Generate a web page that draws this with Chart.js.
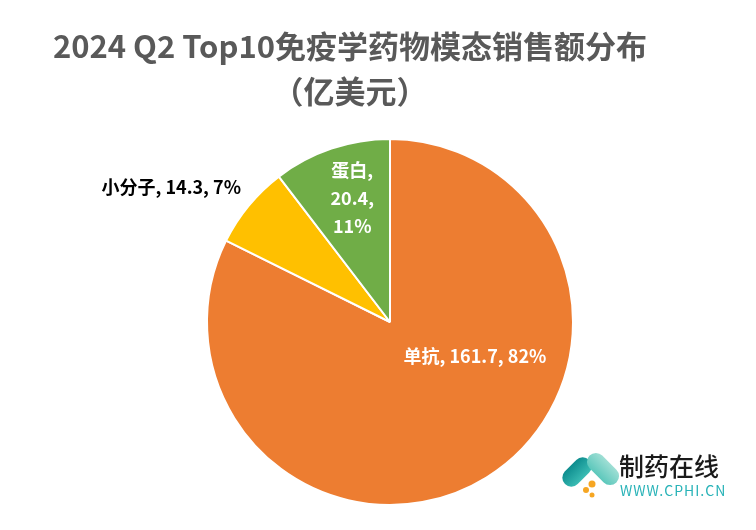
<!DOCTYPE html>
<html><head><meta charset="utf-8">
<script src="https://cdn.jsdelivr.net/npm/chart.js@4"></script>
<style>html,body{margin:0;padding:0;background:#fff}#wrap{width:756px;height:530px;position:relative}</style>
</head><body><div id="wrap"><canvas id="c" width="756" height="530"></canvas></div>
<script>
const categories = ['单抗', '小分子', '蛋白'];
const values = [161.7, 14.3, 20.4];
const percents = ['82%', '7%', '11%'];
const colors = ['#ED7D31', '#FFC000', '#70AD47'];
const titleLines = ['2024 Q2 Top10免疫学药物模态销售额分布', '（亿美元）'];

const FONT = '"Noto Sans CJK SC", "Noto Sans", sans-serif';
// label anchors relative to pie centre: [angle in degrees, distance as fraction of radius]
const labelAnchors = [[21.8, 0.50], [-148.3, 1.405], [-106.9, 0.71]];

const overlay = {
  id: 'overlay',
  afterDraw(chart) {
    const ctx = chart.ctx;
    ctx.save();
    // title
    ctx.fillStyle = '#595959';
    ctx.textAlign = 'center';
    ctx.textBaseline = 'middle';
    ctx.font = 'bold 31px ' + FONT;
    ctx.fillText(titleLines[0], 350, 46);
    ctx.fillText(titleLines[1], 350, 91);

    // labels
    const meta = chart.getDatasetMeta(0);
    meta.data.forEach((arc, i) => {
      const p = arc.getProps(['x','y','outerRadius'], true);
      const a = labelAnchors[i][0] * Math.PI / 180;
      const r = p.outerRadius * labelAnchors[i][1];
      const cx = p.x + Math.cos(a) * r, cy = p.y + Math.sin(a) * r;
      ctx.font = 'bold 18px ' + FONT;
      if (i === 2) {
        ctx.fillStyle = '#ffffff';
        const lines = [categories[i] + ',', values[i] + ',', percents[i]];
        lines.forEach((l, k) => ctx.fillText(l, cx, cy + (k - 1) * 28));
      } else {
        ctx.fillStyle = i === 0 ? '#ffffff' : '#000000';
        ctx.fillText(categories[i] + ', ' + values[i] + ', ' + percents[i], cx, cy);
      }
    });

    // logo
    ctx.save();
    ctx.translate(577, 472);
    ctx.rotate(Math.PI / 4);
    const g1 = ctx.createLinearGradient(-10, 0, 10, 0);
    g1.addColorStop(0, '#0b8a8c'); g1.addColorStop(1, '#3dbfb6');
    ctx.fillStyle = g1;
    ctx.beginPath(); ctx.roundRect(-9, -17, 18, 34, 9); ctx.fill();
    ctx.restore();
    ctx.save();
    ctx.translate(603, 469);
    ctx.rotate(-Math.PI / 4);
    const g2 = ctx.createLinearGradient(-10, 0, 10, 0);
    g2.addColorStop(0, '#58c6ba'); g2.addColorStop(1, '#a3e0d6');
    ctx.fillStyle = g2;
    ctx.beginPath(); ctx.roundRect(-9, -19, 18, 38, 9); ctx.fill();
    ctx.restore();
    ctx.fillStyle = '#f6a623';
    [[592,484,3.5],[586,490,3],[592,495,2.5]].forEach(c => { ctx.beginPath(); ctx.arc(c[0], c[1], c[2], 0, Math.PI*2); ctx.fill(); });
    ctx.textAlign = 'left';
    ctx.fillStyle = '#1a1a1a';
    ctx.font = '500 25px ' + FONT;
    ctx.fillText('制药在线', 619, 466);
    ctx.fillStyle = '#29b3b8';
    ctx.font = '14px ' + FONT;
    ctx.letterSpacing = '1px';
    ctx.fillText('WWW.CPHI.CN', 620, 491);
    ctx.restore();
  }
};

new Chart(document.getElementById('c'), {
  type: 'pie',
  data: {
    labels: categories,
    datasets: [{ data: values, backgroundColor: colors, borderColor: '#ffffff', borderWidth: 2 }]
  },
  options: {
    responsive: false,
    animation: false,
    layout: { padding: { left: 206, right: 182, top: 138, bottom: 24 } },
    plugins: { legend: { display: false }, tooltip: { enabled: false }, title: { display: false } }
  },
  plugins: [overlay]
});
</script></body></html>
